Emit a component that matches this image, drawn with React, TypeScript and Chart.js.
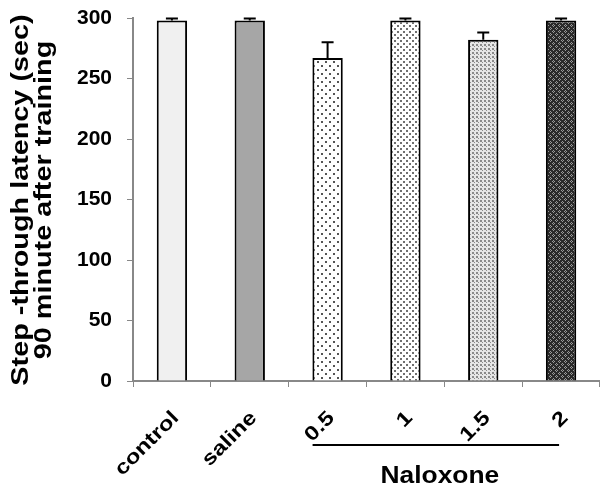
import React, { useEffect, useRef } from "react";
import { Chart, registerables } from "chart.js";
Chart.register(...registerables);

const categories = ["control", "saline", "0.5", "1", "1.5", "2"];
const values = [298, 298, 267, 298, 282, 298];
const errors = [1.5, 1.5, 13, 1.5, 6, 1.5];
const yTicks = [0, 50, 100, 150, 200, 250, 300];
const yTitle = ["Step -through latency (sec)", "90 minute after training"];
const groupLabel = "Naloxone";
const groupFrom = 2;
const groupTo = 5;

const FONT = "'Liberation Sans', Arial, sans-serif";

function makePattern(kind: string): CanvasPattern | string {
  const c = document.createElement("canvas");
  const ctx = c.getContext("2d")!;
  if (kind === "p05") {
    c.width = 8; c.height = 8;
    ctx.fillStyle = "#ffffff"; ctx.fillRect(0, 0, 8, 8);
    ctx.fillStyle = "#555555";
    ctx.fillRect(1, 1, 2, 2); ctx.fillRect(5, 5, 2, 2);
  } else if (kind === "p1") {
    c.width = 6; c.height = 6;
    ctx.fillStyle = "#ffffff"; ctx.fillRect(0, 0, 6, 6);
    ctx.fillStyle = "#707070";
    ctx.fillRect(1, 1, 2, 2); ctx.fillRect(4, 4, 2, 2);
  } else if (kind === "p15") {
    c.width = 4; c.height = 4;
    ctx.fillStyle = "#e6e6e6"; ctx.fillRect(0, 0, 4, 4);
    ctx.fillStyle = "#8a8a8a";
    ctx.fillRect(0, 0, 2, 2); ctx.fillRect(2, 2, 1, 1);
  } else {
    c.width = 6; c.height = 6;
    ctx.fillStyle = "#2a2a2a"; ctx.fillRect(0, 0, 6, 6);
    ctx.fillStyle = "#9a9a9a";
    ctx.fillRect(1, 0, 1, 1); ctx.fillRect(0, 1, 1, 1); ctx.fillRect(2, 1, 1, 1); ctx.fillRect(1, 2, 1, 1);
    ctx.fillRect(4, 3, 1, 1); ctx.fillRect(3, 4, 1, 1); ctx.fillRect(5, 4, 1, 1); ctx.fillRect(4, 5, 1, 1);
  }
  return ctx.createPattern(c, "repeat")!;
}

export default function App() {
  const ref = useRef<HTMLCanvasElement>(null);
  useEffect(() => {
    const fills = ["#f0f0f0", "#a6a6a6", makePattern("p05"), makePattern("p1"), makePattern("p15"), makePattern("p2")];
    const extras = {
      id: "extras",
      afterDatasetsDraw(chart: any) {
        const { ctx, scales } = chart;
        const y = scales.y;
        const meta = chart.getDatasetMeta(0);
        ctx.save();
        ctx.strokeStyle = "#000";
        ctx.lineWidth = 2;
        meta.data.forEach((bar: any, i: number) => {
          const top = y.getPixelForValue(values[i] + errors[i]);
          const base = y.getPixelForValue(values[i]);
          ctx.beginPath();
          ctx.moveTo(bar.x, base);
          ctx.lineTo(bar.x, top);
          ctx.moveTo(bar.x - 6, top);
          ctx.lineTo(bar.x + 6, top);
          ctx.stroke();
        });
        ctx.restore();
      },
      afterDraw(chart: any) {
        const { ctx, scales } = chart;
        const x = scales.x;
        ctx.save();
        ctx.fillStyle = "#000";
        // x category labels, rotated
        ctx.font = `bold 20px ${FONT}`;
        ctx.textAlign = "right";
        ctx.textBaseline = "middle";
        categories.forEach((c, i) => {
          const cx = x.getPixelForValue(i);
          ctx.save();
          ctx.translate(cx + 4, 415);
          ctx.rotate(-Math.PI / 4);
          ctx.scale(1.2, 1);
          ctx.fillText(c, 0, 0);
          ctx.restore();
        });
        // y title
        ctx.font = `bold 24px ${FONT}`;
        ctx.textAlign = "center";
        ctx.textBaseline = "alphabetic";
        const baselines = [28, 51];
        yTitle.forEach((t, i) => {
          ctx.save();
          ctx.translate(baselines[i], 200);
          ctx.rotate(-Math.PI / 2);
          ctx.scale(1.2, 1);
          ctx.fillText(t, 0, 0);
          ctx.restore();
        });
        // group line + label
        const x1 = x.getPixelForValue(groupFrom) - 15;
        const x2 = x.getPixelForValue(groupTo) - 2;
        ctx.strokeStyle = "#000";
        ctx.lineWidth = 2;
        ctx.beginPath();
        ctx.moveTo(x1, 445);
        ctx.lineTo(x2, 445);
        ctx.stroke();
        ctx.font = `bold 24px ${FONT}`;
        ctx.save();
        ctx.translate((x1 + x2) / 2 + 4, 483);
        ctx.scale(1.1, 1);
        ctx.fillText(groupLabel, 0, 0);
        ctx.restore();
        ctx.restore();
      },
    };
    const chart = new Chart(ref.current!, {
      type: "bar",
      data: {
        labels: categories,
        datasets: [{
          data: values,
          backgroundColor: fills as any,
          borderColor: "#000",
          borderWidth: 2,
          categoryPercentage: 1,
          barPercentage: 0.39,
        }],
      },
      options: {
        animation: false,
        responsive: false,
        layout: { padding: { top: 18, right: 0, left: 0, bottom: 0 } },
        plugins: { legend: { display: false }, tooltip: { enabled: false } },
        scales: {
          x: {
            grid: { display: true, drawOnChartArea: false, offset: true, color: "#888", tickLength: 6, lineWidth: 1 },
            border: { color: "#888", width: 2 },
            ticks: { display: false },
            afterFit(s: any) { s.height = 107; s.paddingLeft = 0; s.paddingRight = 0; },
          },
          y: {
            min: 0, max: 300,
            afterBuildTicks(s: any) { s.ticks = yTicks.map((v) => ({ value: v })); },
            grid: { display: true, drawOnChartArea: false, color: "#888", tickLength: 6 },
            border: { color: "#888", width: 2 },
            ticks: {
              color: "#000",
              font: { family: FONT, size: 21, weight: "bold" },
              padding: 15,
            },
            afterFit(s: any) { s.width = 133; s.paddingTop = 0; s.paddingBottom = 0; },
          },
        },
      },
      plugins: [extras],
    });
    return () => chart.destroy();
  }, []);
  return (
    <div style={{ position: "absolute", left: 0, top: 0, width: 600, height: 488, background: "#fff" }}>
      <canvas ref={ref} width={600} height={488} style={{ display: "block" }} />
    </div>
  );
}
